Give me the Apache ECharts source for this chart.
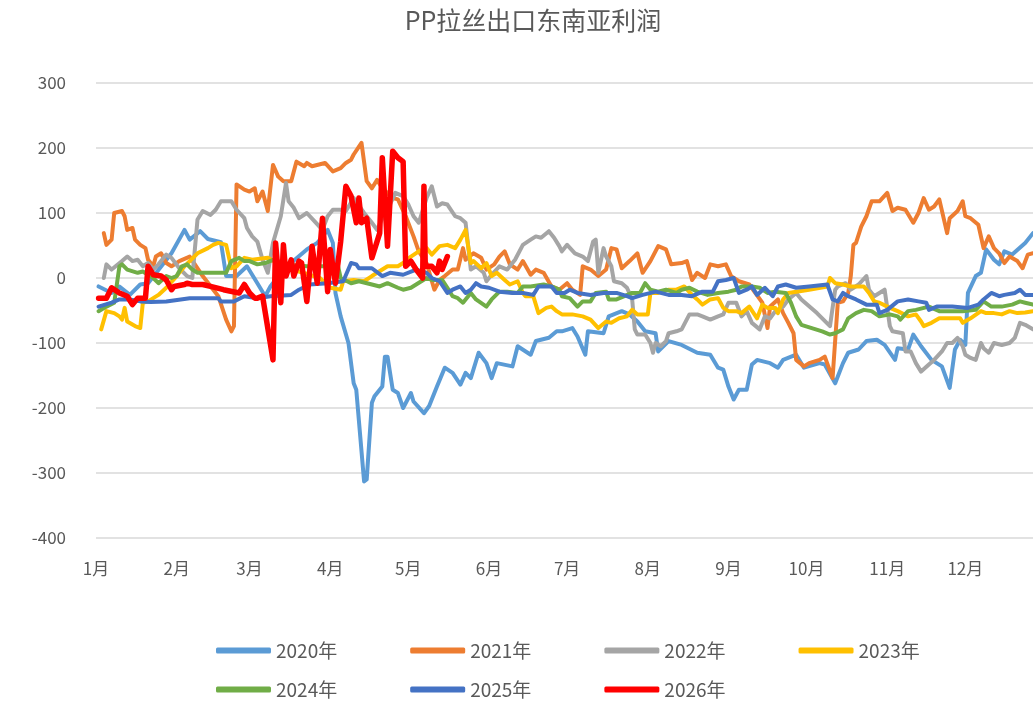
<!DOCTYPE html>
<html>
<head>
<meta charset="utf-8">
<script src="https://cdn.jsdelivr.net/npm/echarts@6/dist/echarts.min.js"></script>
<style>
html,body{margin:0;padding:0;background:#fff;}
#c{width:1033px;height:701px;}
</style>
</head>
<body>
<div id="c"></div>
<script>
// x = day of year (0 = 1月1日), y = profit
const monthStarts = [0,31,59,90,120,151,181,212,243,273,304,334];
const monthLabels = ['1月','2月','3月','4月','5月','6月','7月','8月','9月','10月','11月','12月'];
const yTicks = [-400,-300,-200,-100,0,100,200,300];
const seriesNames = ['2020年','2021年','2022年','2023年','2024年','2025年','2026年'];
const seriesColors = ['#5B9BD5','#ED7D31','#A5A5A5','#FFC000','#70AD47','#4472C4','#FF0000'];

const s2020 = [[1,-13],[6,-23],[9,-13],[13,-26],[17,-10],[20,-8],[29,38],[34,74],[36,59],[40,72],[43,60],[48,55],[50,3],[54,3],[58,18],[62,-8],[65,-28],[67,-13],[72,13],[81,44],[85,54],[89,74],[91,54],[92,-23],[94,-59],[97,-100],[99,-162],[100,-172],[103,-313],[104,-310],[106,-192],[107,-182],[110,-167],[111,-121],[112,-121],[114,-172],[116,-177],[118,-200],[121,-177],[122,-190],[126,-208],[128,-197],[131,-167],[134,-138],[137,-146],[140,-164],[142,-146],[144,-154],[147,-115],[150,-131],[152,-154],[154,-131],[160,-136],[162,-105],[167,-118],[169,-97],[174,-92],[177,-82],[179,-82],[183,-77],[185,-90],[188,-118],[189,-82],[195,-85],[197,-59],[202,-51],[205,-56],[208,-67],[211,-82],[215,-85],[216,-113],[220,-97],[225,-103],[231,-115],[236,-118],[239,-138],[241,-141],[243,-167],[245,-187],[247,-172],[250,-172],[252,-133],[254,-126],[259,-131],[262,-138],[264,-126],[269,-118],[272,-138],[278,-131],[280,-133],[284,-162],[287,-131],[289,-115],[293,-110],[296,-97],[300,-95],[303,-103],[307,-126],[308,-108],[312,-110],[314,-87],[317,-105],[321,-126],[325,-136],[328,-169],[330,-110],[332,-95],[334,-103],[335,-23],[338,3],[340,8],[342,44],[345,28],[347,21],[349,41],[352,36],[357,54],[360,69]];

const s2021 = [[3,69],[4,51],[6,59],[7,100],[10,103],[11,95],[12,74],[14,77],[15,59],[17,51],[19,46],[20,28],[22,18],[23,33],[25,38],[27,23],[29,18],[32,26],[36,33],[41,3],[47,-28],[50,-64],[52,-82],[53,-74],[54,144],[57,136],[59,133],[61,138],[62,118],[64,133],[66,103],[68,174],[70,156],[72,149],[75,149],[77,179],[80,172],[81,177],[83,172],[88,177],[91,164],[94,169],[96,177],[98,182],[99,190],[102,208],[104,149],[106,138],[108,151],[110,138],[114,123],[116,121],[119,95],[122,64],[124,41],[127,23],[130,-18],[132,-3],[134,3],[137,13],[139,13],[141,46],[142,28],[145,38],[148,31],[150,13],[153,21],[155,33],[157,41],[159,21],[162,13],[164,26],[167,5],[169,13],[172,8],[175,-13],[178,-18],[181,-8],[183,-18],[186,-26],[187,18],[190,13],[193,3],[196,13],[198,46],[200,44],[202,15],[205,26],[208,38],[210,8],[213,26],[216,49],[219,44],[221,21],[225,23],[227,26],[229,-3],[231,8],[234,0],[236,21],[239,18],[242,21],[244,3],[247,-5],[251,-10],[256,-38],[258,-77],[259,-44],[262,-33],[264,-54],[266,-69],[268,-85],[269,-126],[272,-136],[274,-131],[278,-126],[280,-121],[283,-154],[285,-38],[287,-36],[289,-23],[290,3],[291,51],[292,54],[294,79],[296,95],[298,118],[301,118],[304,131],[306,103],[308,108],[311,105],[314,85],[316,100],[318,123],[320,105],[322,110],[324,121],[327,69],[328,92],[331,103],[333,118],[334,95],[336,92],[339,82],[341,46],[343,64],[345,46],[347,38],[349,23],[351,33],[354,26],[356,15],[358,36],[360,38]];

const s2022 = [[3,0],[4,21],[6,13],[10,26],[12,33],[14,26],[16,28],[18,18],[20,23],[22,13],[24,21],[27,36],[29,31],[32,15],[35,3],[37,0],[39,90],[41,103],[44,97],[46,105],[48,118],[52,118],[54,105],[57,92],[58,77],[60,64],[62,56],[64,28],[66,8],[68,54],[71,95],[73,146],[74,118],[76,108],[78,92],[81,100],[84,87],[87,74],[89,95],[91,105],[94,105],[96,103],[99,123],[103,100],[106,85],[108,74],[110,92],[112,105],[115,131],[118,126],[120,113],[122,95],[124,85],[126,110],[127,123],[129,141],[131,110],[133,115],[135,113],[138,95],[140,92],[142,85],[144,13],[146,18],[149,8],[150,-5],[152,5],[155,18],[158,13],[161,28],[164,51],[167,59],[169,64],[171,62],[174,72],[176,62],[178,49],[179,41],[181,51],[184,38],[187,33],[189,26],[191,56],[192,59],[193,8],[195,46],[196,33],[198,18],[199,-5],[202,-8],[204,-15],[206,-33],[207,-79],[208,-87],[211,-87],[213,-100],[214,-115],[215,-100],[217,-105],[219,-97],[220,-85],[223,-82],[225,-79],[228,-56],[231,-56],[233,-59],[236,-64],[239,-59],[241,-56],[243,-38],[246,-38],[248,-59],[250,-51],[252,-69],[255,-79],[257,-59],[259,-62],[261,-51],[264,-44],[266,-33],[269,-23],[271,-33],[277,-54],[282,-74],[284,-18],[285,-13],[288,-8],[290,-18],[293,-10],[296,3],[297,-18],[299,-28],[301,-23],[303,-18],[305,-74],[306,-82],[310,-85],[311,-113],[313,-113],[315,-131],[317,-144],[320,-133],[322,-126],[325,-113],[327,-100],[329,-100],[331,-92],[333,-105],[334,-118],[336,-123],[338,-126],[340,-100],[341,-108],[343,-115],[345,-100],[348,-103],[351,-100],[353,-92],[355,-69],[357,-72],[360,-79]];

const s2023 = [[2,-79],[4,-51],[7,-54],[9,-59],[10,-64],[11,-46],[12,-67],[15,-74],[17,-77],[18,-38],[20,-36],[24,-26],[27,-15],[31,3],[34,18],[36,26],[39,38],[43,46],[45,51],[47,54],[50,51],[52,15],[54,18],[57,31],[60,28],[66,31],[71,20],[78,10],[86,0],[90,-15],[94,-18],[95,-5],[99,-3],[103,-5],[106,3],[108,8],[112,18],[116,18],[118,23],[121,33],[124,41],[127,46],[129,36],[132,49],[135,51],[138,46],[140,59],[142,74],[144,23],[145,26],[148,15],[150,23],[152,3],[154,8],[157,-3],[159,-10],[162,-5],[164,-23],[165,-28],[168,-28],[170,-54],[173,-46],[175,-44],[177,-51],[179,-56],[183,-56],[187,-59],[190,-64],[193,-77],[196,-67],[198,-69],[201,-62],[204,-59],[206,-49],[208,-56],[212,-56],[213,-23],[216,-23],[220,-18],[223,-18],[226,-13],[229,-26],[231,-33],[233,-41],[236,-33],[239,-31],[241,-46],[243,-51],[246,-51],[248,-54],[251,-44],[254,-62],[256,-41],[258,-46],[261,-46],[262,-54],[264,-33],[266,-23],[274,-18],[281,-13],[282,0],[284,-8],[287,-10],[290,-13],[295,-13],[297,-23],[299,-36],[301,-38],[305,-46],[308,-51],[312,-59],[315,-56],[317,-67],[318,-74],[321,-69],[324,-62],[328,-62],[332,-62],[333,-69],[336,-62],[340,-51],[342,-54],[345,-54],[348,-56],[351,-51],[354,-54],[357,-53],[360,-51]];

const s2024 = [[1,-51],[4,-44],[7,-38],[9,18],[10,21],[12,13],[16,8],[18,10],[20,5],[22,0],[24,-8],[27,3],[29,0],[31,3],[33,18],[35,21],[37,13],[39,8],[44,8],[50,8],[52,26],[55,31],[57,26],[59,26],[62,21],[65,23],[68,28],[75,20],[81,18],[93,18],[94,0],[98,-8],[101,-5],[106,-10],[109,-13],[112,-8],[116,-15],[118,-18],[121,-15],[123,-10],[127,0],[129,-3],[133,-3],[135,-15],[137,-28],[139,-31],[141,-38],[144,-23],[146,-33],[150,-44],[152,-33],[155,-21],[158,-21],[162,-23],[164,-13],[167,-13],[172,-10],[175,-13],[178,-18],[179,-28],[182,-31],[185,-44],[187,-36],[190,-36],[192,-23],[196,-21],[197,-33],[200,-33],[203,-28],[206,-23],[209,-23],[211,-8],[213,-18],[216,-21],[219,-18],[223,-23],[225,-18],[228,-15],[231,-21],[235,-26],[239,-23],[243,-21],[246,-18],[248,-13],[252,-13],[255,-15],[258,-23],[261,-21],[265,-23],[267,-38],[269,-59],[271,-72],[275,-77],[279,-82],[282,-87],[284,-85],[287,-79],[289,-62],[292,-54],[295,-49],[298,-51],[301,-59],[305,-56],[308,-59],[309,-64],[312,-51],[315,-49],[320,-44],[324,-51],[328,-51],[333,-51],[338,-49],[341,-36],[344,-44],[348,-44],[352,-41],[355,-36],[357,-38],[360,-41]];

const s2025 = [[1,-44],[6,-38],[9,-33],[13,-33],[17,-36],[21,-37],[27,-36],[36,-31],[47,-31],[48,-36],[53,-36],[57,-28],[62,-31],[67,-28],[75,-26],[78,-18],[82,-10],[89,-8],[95,-5],[98,23],[100,21],[101,15],[106,15],[110,3],[113,8],[118,5],[123,13],[127,8],[129,0],[132,-5],[135,-23],[137,-18],[140,-13],[142,-23],[144,-18],[146,-8],[148,-13],[151,-15],[155,-21],[160,-23],[164,-23],[168,-26],[170,-13],[175,-13],[177,-23],[180,-23],[182,-18],[185,-23],[190,-26],[195,-23],[200,-23],[204,-28],[206,-31],[210,-26],[215,-21],[220,-26],[225,-26],[229,-28],[233,-21],[237,-21],[239,-5],[242,-3],[245,0],[247,-23],[250,-18],[252,-13],[254,-26],[257,-15],[260,-28],[262,-13],[265,-10],[269,-15],[274,-13],[281,-10],[283,-33],[285,-36],[287,-23],[289,-28],[292,-33],[296,-41],[300,-41],[301,-54],[304,-49],[308,-36],[312,-33],[316,-36],[319,-38],[320,-49],[323,-44],[329,-44],[335,-46],[339,-41],[341,-33],[344,-23],[347,-28],[349,-26],[353,-23],[355,-18],[357,-26],[360,-26]];

const s2026 = [[1,-31],[4,-31],[6,-15],[9,-23],[12,-28],[14,-41],[16,-31],[19,-31],[20,18],[22,5],[25,3],[27,-3],[29,-18],[30,-13],[34,-10],[35,-8],[37,-10],[41,-10],[44,-13],[49,-18],[55,-23],[57,-10],[59,-23],[61,-31],[62,-31],[64,-28],[68,-126],[69,54],[71,-38],[72,51],[73,3],[75,28],[76,3],[78,26],[79,23],[81,-36],[83,49],[85,-8],[87,92],[89,-21],[90,44],[92,-8],[94,56],[96,141],[98,126],[100,85],[101,123],[102,85],[104,92],[106,31],[109,69],[110,185],[112,49],[114,195],[116,185],[118,179],[119,18],[121,26],[123,13],[125.5,0],[126,141],[126.5,18],[129,18],[131,8],[132,26],[133,13],[135,33]];

const allData = [s2020,s2021,s2022,s2023,s2024,s2025,s2026];

const FONT = '"Noto Sans CJK SC", "Noto Sans", sans-serif';
const TXT = '#595959';

const chart = echarts.init(document.getElementById('c'));
chart.setOption({
  animation: false,
  backgroundColor: '#fff',
  title: {
    text: 'PP拉丝出口东南亚利润',
    left: 528, top: 3, textAlign: 'center',
    textStyle: { fontFamily: FONT, fontSize: 25, fontWeight: 'normal', color: TXT }
  },
  legend: [
    {
      data: seriesNames.slice(0,4), left: 211, top: 636, orient: 'horizontal',
      itemWidth: 55, itemHeight: 6, itemGap: 73, icon: 'roundRect',
      textStyle: { fontFamily: FONT, fontSize: 19, color: TXT, width: 70 }
    },
    {
      data: seriesNames.slice(4), left: 211, top: 675, orient: 'horizontal',
      itemWidth: 55, itemHeight: 6, itemGap: 73, icon: 'roundRect',
      textStyle: { fontFamily: FONT, fontSize: 19, color: TXT, width: 70 }
    }
  ],
  grid: { left: 96, right: 0, top: 83, bottom: 163, containLabel: false },
  xAxis: {
    type: 'value', min: 0, max: 360,
    axisLine: { show: false }, axisTick: { show: false }, splitLine: { show: false },
    axisLabel: {
      customValues: monthStarts,
      formatter: v => monthLabels[monthStarts.indexOf(Math.round(v))] || '',
      fontFamily: FONT, fontSize: 17, color: TXT, margin: 22
    }
  },
  yAxis: {
    type: 'value', min: yTicks[0], max: yTicks[yTicks.length-1], interval: 100,
    axisLine: { show: false }, axisTick: { show: false },
    splitLine: { lineStyle: { color: '#D9D9D9', width: 1.5 } },
    axisLabel: { fontFamily: FONT, fontSize: 17, color: TXT, margin: 30 }
  },
  series: seriesNames.map((name, i) => ({
    name, type: 'line', data: allData[i], showSymbol: false, symbol: 'none',
    color: seriesColors[i],
    lineStyle: { width: i === 6 ? 5.5 : 4, color: seriesColors[i], join: 'round', cap: 'round' },
    z: 2 + i
  }))
});
</script>
</body>
</html>
